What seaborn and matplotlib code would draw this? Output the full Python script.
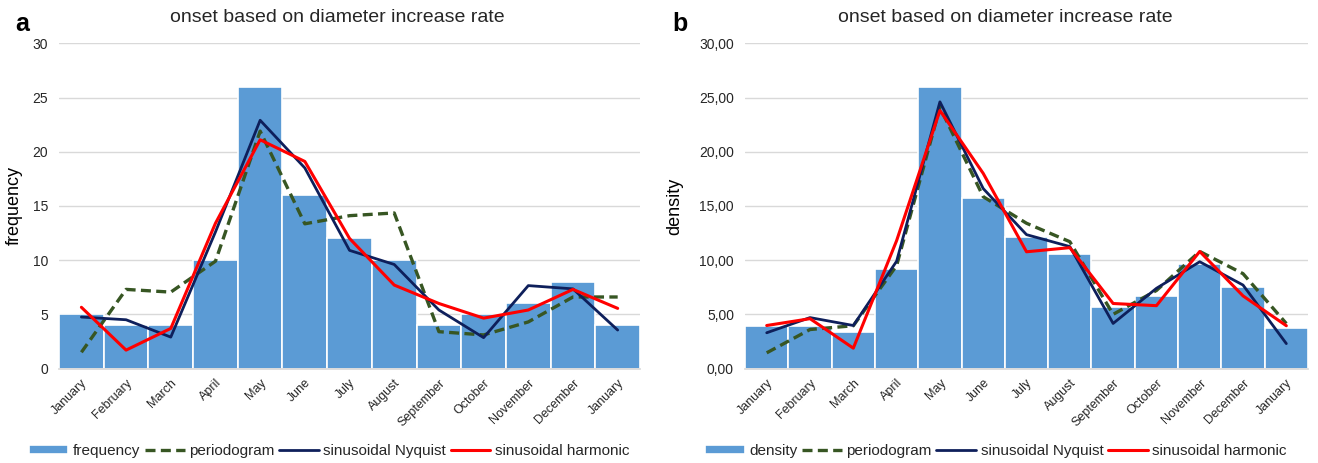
import numpy as np
import pandas as pd
import seaborn as sns
from matplotlib import pyplot as plt
from matplotlib.ticker import FuncFormatter

# 月份（首尾都是 January）
months = ["January", "February", "March", "April", "May", "June", "July",
          "August", "September", "October", "November", "December", "January"]

# 图 a：频数
frequency = [5, 4, 4, 10, 26, 16, 12, 10, 4, 5, 6, 8, 4]
periodogram_a = [1.5, 7.3, 7.05, 9.9, 21.9, 13.35, 14.1, 14.35, 3.4, 3.1, 4.3, 6.6, 6.6]
nyquist_a = [4.75, 4.5, 2.9, 12.6, 22.9, 18.5, 10.9, 9.6, 5.4, 2.85, 7.65, 7.35, 3.55]
harmonic_a = [5.65, 1.7, 3.7, 13.4, 21.1, 19.1, 12.0, 7.7, 6.0, 4.65, 5.4, 7.3, 5.55]

# 图 b：密度
density = [3.9, 3.95, 3.36, 9.17, 26.0, 15.7, 12.15, 10.6, 5.7, 6.7, 9.6, 7.55, 3.75]
periodogram_b = [1.45, 3.6, 3.95, 9.5, 24.1, 15.85, 13.4, 11.7, 5.0, 7.2, 10.8, 8.75, 4.15]
nyquist_b = [3.3, 4.7, 3.97, 9.9, 24.6, 16.6, 12.35, 11.25, 4.16, 7.4, 9.85, 7.7, 2.3]
harmonic_b = [3.97, 4.6, 1.88, 11.8, 23.8, 18.0, 10.77, 11.15, 6.0, 5.8, 10.8, 6.7, 3.95]

BAR_C = "#5B9BD5"
GREEN = "#375623"
NAVY = "#0E1F5B"
RED = "#FF0000"
TXT = "#262626"

sns.set_theme(style="white")
plt.rcParams['font.family'] = ['Liberation Sans', 'DejaVu Sans']
plt.rcParams['text.color'] = TXT


def draw_panel(ax, bars, bar_label, per, nyq, har, ylabel, fmt):
    df = pd.DataFrame({"pos": np.arange(len(months)), "bar": bars,
                       "per": per, "nyq": nyq, "har": har})
    sns.barplot(data=df, x="pos", y="bar", color=BAR_C, width=1.0,
                edgecolor="white", linewidth=1.2, saturation=1,
                label=bar_label, ax=ax)
    sns.lineplot(data=df, x="pos", y="per", color=GREEN, lw=2.4,
                 linestyle=(0, (3, 1.6)), label="periodogram", ax=ax)
    sns.lineplot(data=df, x="pos", y="nyq", color=NAVY, lw=2.0,
                 label="sinusoidal Nyquist", ax=ax)
    sns.lineplot(data=df, x="pos", y="har", color=RED, lw=2.2,
                 label="sinusoidal harmonic", ax=ax)
    if ax.get_legend() is not None:
        ax.get_legend().remove()

    ax.set_xlim(-0.5, len(months) - 0.5)
    ax.set_ylim(0, 30)
    ax.set_yticks(range(0, 31, 5))
    ax.yaxis.set_major_formatter(FuncFormatter(fmt))
    ax.set_xticks(range(len(months)))
    ax.set_xticklabels(months, rotation=45, ha="right", rotation_mode="anchor")
    ax.tick_params(axis="x", labelsize=9, pad=6, length=0, labelcolor=TXT)
    ax.tick_params(axis="y", labelsize=10, length=0, pad=8, labelcolor=TXT)
    ax.set_xlabel("")
    ax.set_ylabel(ylabel, fontsize=13, color="black")
    ax.grid(axis="y", color="#D9D9D9", lw=1)
    ax.set_axisbelow(True)
    for s in ["top", "right", "left"]:
        ax.spines[s].set_visible(False)
    ax.spines["bottom"].set_color("#D9D9D9")
    h, l = ax.get_legend_handles_labels()
    order = [3, 0, 1, 2]
    return [h[i] for i in order], [l[i] for i in order]


fig = plt.figure(figsize=(13.18, 4.63), dpi=100)
ax_a = fig.add_axes([0.0448, 0.204, 0.4408, 0.7025])
ax_b = fig.add_axes([0.5653, 0.204, 0.4271, 0.7025])

h_a, l_a = draw_panel(ax_a, frequency, "frequency", periodogram_a, nyquist_a,
                      harmonic_a, "frequency", lambda v, p: f"{v:.0f}")
h_b, l_b = draw_panel(ax_b, density, "density", periodogram_b, nyquist_b,
                      harmonic_b, "density", lambda v, p: f"{v:.2f}".replace(".", ","))

ax_a.yaxis.set_label_coords(-0.062, 0.5)
ax_b.yaxis.set_label_coords(-0.11, 0.5)

title = "onset based on diameter increase rate"
fig.text(337.5 / 1318, 1 - 17 / 463, title, ha="center", va="center", fontsize=14)
fig.text(1005.5 / 1318, 1 - 17 / 463, title, ha="center", va="center", fontsize=14)
fig.text(22 / 1318, 1 - 24 / 463, "a", ha="center", va="center", fontsize=18,
         fontweight="bold", color="black")
fig.text(680 / 1318, 1 - 24 / 463, "b", ha="center", va="center", fontsize=18,
         fontweight="bold", color="black")

for h, l, cx in [(h_a, l_a, 329 / 1318), (h_b, l_b, 996 / 1318)]:
    fig.legend(h, l, loc="center", bbox_to_anchor=(cx, 1 - 451 / 463), ncol=4,
               frameon=False, fontsize=11, handlelength=2.6, handleheight=0.6,
               handletextpad=0.3, columnspacing=0.3, borderpad=0)

fig.savefig("out.png", dpi=100)
